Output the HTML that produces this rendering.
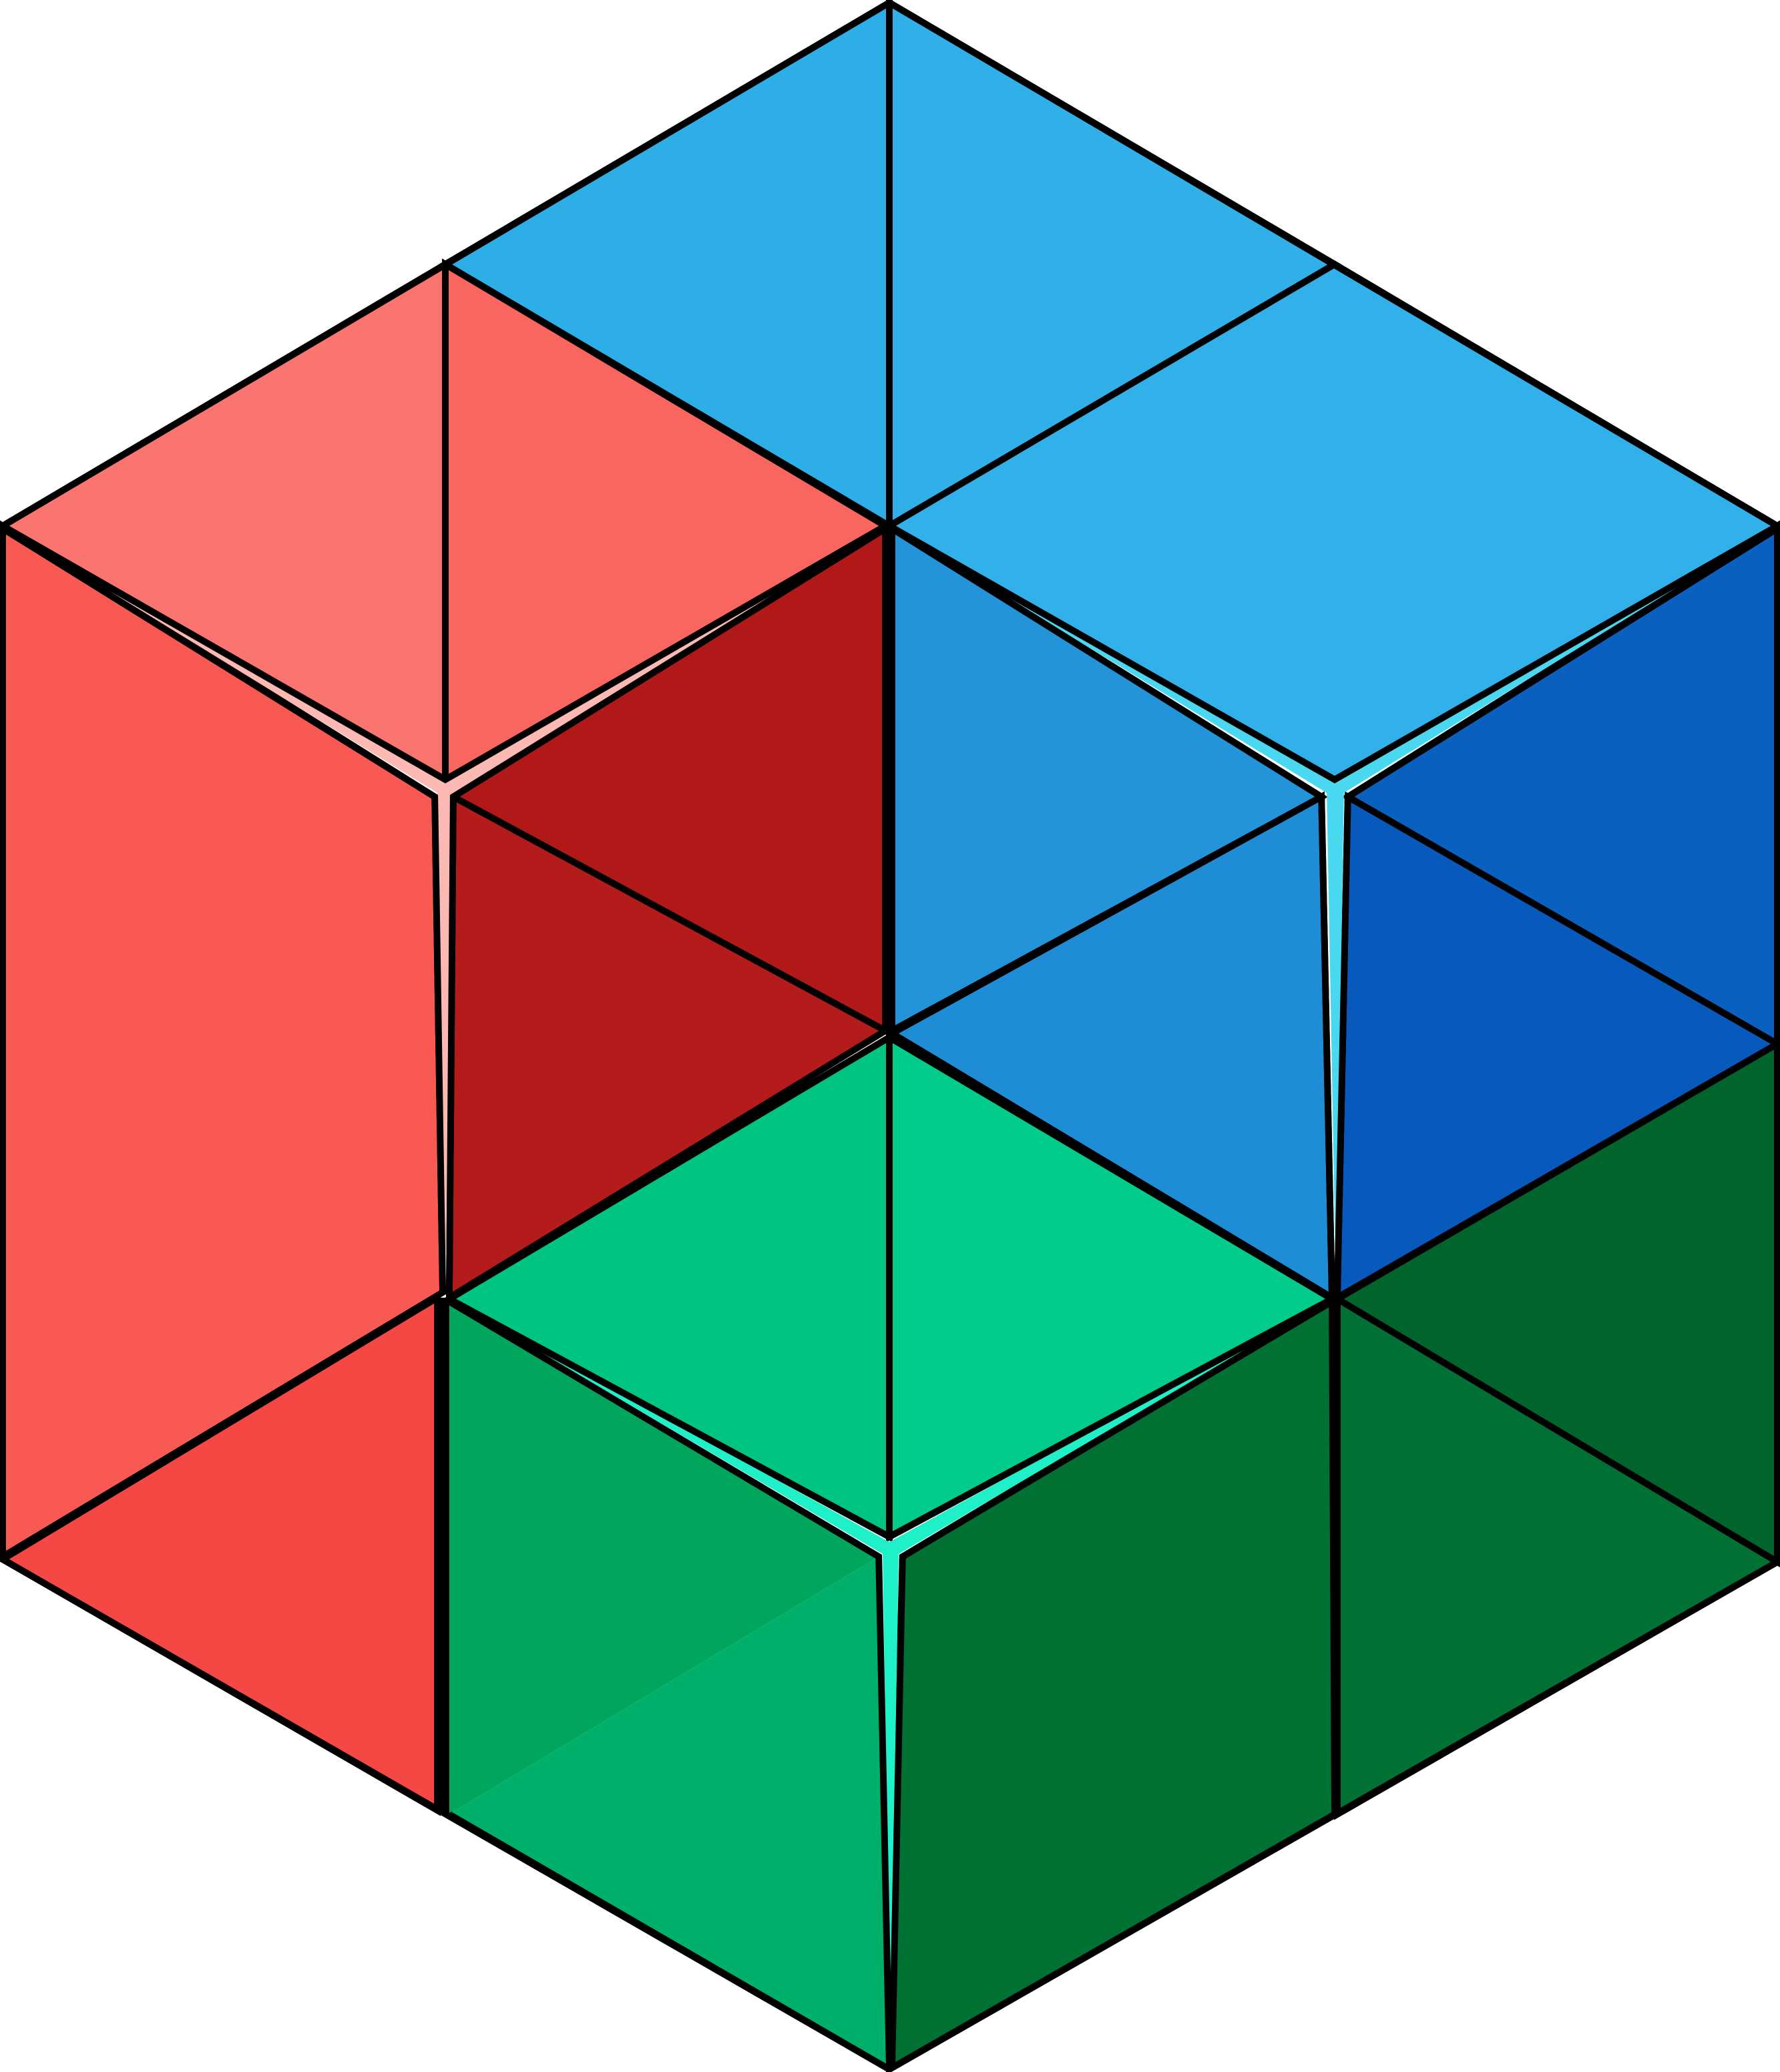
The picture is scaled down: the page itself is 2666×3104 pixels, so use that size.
<!DOCTYPE html>
<html><head><meta charset="utf-8"><style>
html,body{margin:0;padding:0;background:#fff;}
svg{display:block;}
</style></head><body>
<svg width="2666" height="3104" viewBox="0 0 1347 1568" preserveAspectRatio="none" xmlns="http://www.w3.org/2000/svg">
<g stroke="#000" stroke-width="5" stroke-linejoin="miter">
<polygon fill="#fa756f" points="2,398 337,200 337,590"/>
<polygon fill="#f96660" points="337,200 670,398 337,590"/>
<polygon fill="#f85a53" points="2,398 329,603 335,978 2,1178"/>
<polygon fill="#b11918" points="343,603 670,400 670,780"/>
<polygon fill="#b41c1b" points="343,603 670,780 340,982"/>
<polygon fill="#f54744" points="2,1180 331,982 331,1370"/>
<polygon fill="#2daee6" points="337,200 673,2 673,398"/>
<polygon fill="#30afe8" points="673,2 1010,200 673,398"/>
<polygon fill="#31b0e9" points="673,398 1010,200 1345,398 1010,590"/>
<polygon fill="#2394da" points="675,400 1000,603 675,780"/>
<polygon fill="#1f8cd6" points="675,782 1000,603 1008,982"/>
<polygon fill="#0960bf" points="1020,603 1345,398 1345,790"/>
<polygon fill="#0759bb" points="1020,603 1345,790 1012,982"/>
<polygon fill="#00c582" points="340,983 673,785 673,1163"/>
<polygon fill="#01cc8b" points="673,785 1008,983 673,1163"/>
<polygon fill="#007033" points="683,1178 1008,983 1010,1373 673,1566"/>
<polygon fill="#00642c" points="1012,983 1345,790 1345,1182"/>
<polygon fill="#007034" points="1012,983 1345,1182 1012,1373"/>
</g>
<g stroke="none">
<polygon fill="#00a65c" points="340,983 665,1178 340,1373"/>
<polygon fill="#00b06a" points="340,1373 665,1178 673,1566"/>
<polygon fill="#fcb9b4" points="6,400 337,592 668,400 343,600 337,975 331,600"/>
<polygon fill="#4ad8f0" points="677,400 1010,592 1341,400 1017,600 1011,975 1004,600"/>
<polygon fill="#1ff0c8" points="344,985 673,1167 1004,985 680,1176 674,1560 668,1176"/>
</g>
<g stroke="#000" stroke-width="5" fill="none">
<polyline points="2,398 337,590 670,398"/>
<polyline points="2,400 329,603 335,978"/>
<polyline points="670,400 343,603 340,982"/>
<polyline points="673,398 1010,590 1345,398"/>
<polyline points="675,400 1000,603 1008,982"/>
<polyline points="1345,400 1020,603 1012,982"/>
<polyline points="340,983 673,1163 1008,983"/>
<polyline points="340,985 665,1178 673,1566"/>
<polyline points="1008,985 683,1178 675,1566"/>
<line x1="335" y1="982" x2="335" y2="1372" stroke-width="10"/>
<line x1="340" y1="1373" x2="673" y2="1566"/>
<polygon points="673,2 1345,398 1345,1182 673,1566 2,1180 2,398"/>
</g>
</svg>
</body></html>
